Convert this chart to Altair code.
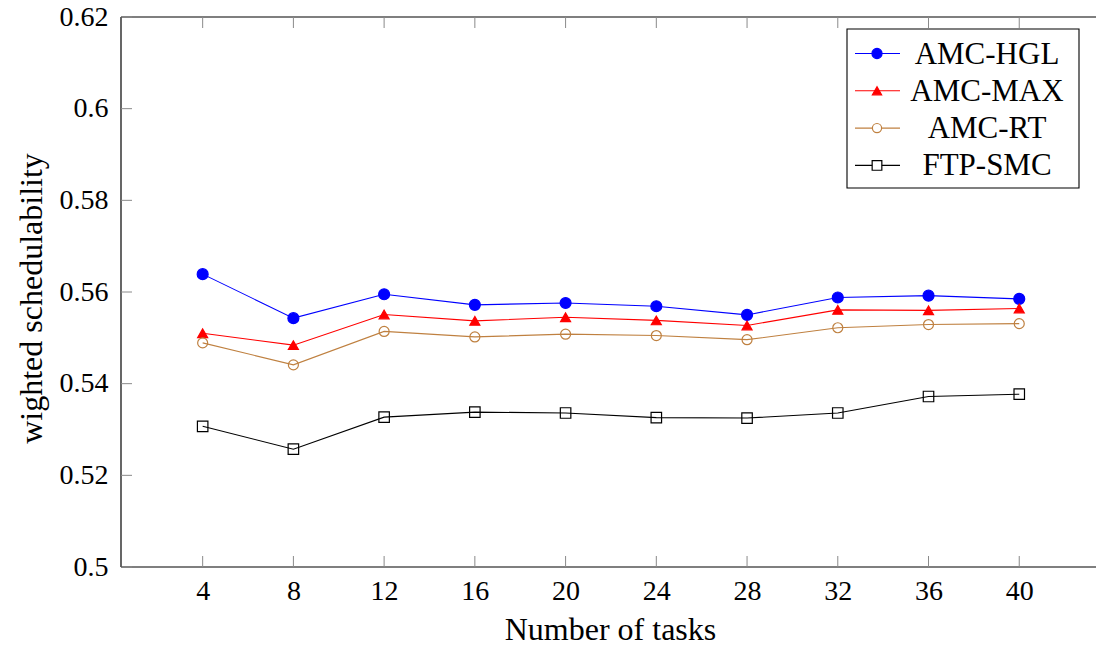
import altair as alt
import pandas as pd

# ---- data ----
tasks = [4, 8, 12, 16, 20, 24, 28, 32, 36, 40]
amc_hgl = [0.5639, 0.5543, 0.5595, 0.5572, 0.5576, 0.5569, 0.5550, 0.5588, 0.5592, 0.5585]
amc_max = [0.5510, 0.5484, 0.5551, 0.5537, 0.5545, 0.5538, 0.5527, 0.5561, 0.5560, 0.5564]
amc_rt = [0.5489, 0.5441, 0.5514, 0.5502, 0.5508, 0.5505, 0.5496, 0.5522, 0.5529, 0.5531]
ftp_smc = [0.5307, 0.5257, 0.5327, 0.5338, 0.5336, 0.5326, 0.5325, 0.5336, 0.5372, 0.5377]
series_names = ["AMC-HGL", "AMC-MAX", "AMC-RT", "FTP-SMC"]
x_ticks = [4, 8, 12, 16, 20, 24, 28, 32, 36, 40]
y_ticks = [0.5, 0.52, 0.54, 0.56, 0.58, 0.6, 0.62]

# ---- styles ----
colors = ["#0000FF", "#FF0000", "#BF8040", "#000000"]
shapes = ["circle", "triangle-up", "circle", "square"]
fills = ["#0000FF", "#FF0000", "transparent", "transparent"]
sizes = [120, 100, 100, 110]
FONT = "Liberation Serif"
LFS = 28   # tick labels
TFS = 32   # axis titles
GFS = 31   # legend entries
W, H = 975, 550
X_MAX = 0.4 + W / 22.683

values = [amc_hgl, amc_max, amc_rt, ftp_smc]
rows = []
for name, vals in zip(series_names, values):
    for t, v in zip(tasks, vals):
        rows.append({"tasks": t, "value": v, "series": name})
df = pd.DataFrame(rows)

xscale = alt.Scale(domain=[0.4, X_MAX], nice=False, zero=False)
yscale = alt.Scale(domain=[0.5, 0.62], nice=False, zero=False)

x_enc = alt.X(
    "tasks:Q", scale=xscale,
    axis=alt.Axis(values=x_ticks, format="d", domain=False, ticks=False, grid=False,
                  labelFont=FONT, labelFontSize=LFS, labelColor="black", labelPadding=10,
                  title="Number of tasks", titleFont=FONT, titleFontSize=TFS,
                  titleFontWeight="normal", titleColor="black",
                  titleX=489, titleY=72, titleAlign="center", titleBaseline="alphabetic"),
)
y_enc = alt.Y(
    "value:Q", scale=yscale,
    axis=alt.Axis(values=y_ticks, format="~g", domain=False, ticks=False, grid=False,
                  labelFont=FONT, labelFontSize=LFS, labelColor="black", labelPadding=13,
                  title="wighted schedulability", titleFont=FONT, titleFontSize=TFS,
                  titleFontWeight="normal", titleColor="black",
                  titleX=-80, titleY=281, titleAngle=-90, titleAlign="center",
                  titleBaseline="alphabetic"),
)

base = alt.Chart(df)
layers = []
one = pd.DataFrame({"k": [0]})

# axis frame (the right edge of the reference frame lies outside the picture)
layers.append(alt.Chart(one).mark_rule(color="black", strokeWidth=1.2).encode(
    x=alt.value(0), x2=alt.value(W), y=alt.value(0)))
layers.append(alt.Chart(one).mark_rule(color="black", strokeWidth=1.2).encode(
    x=alt.value(0), x2=alt.value(W), y=alt.value(H)))
layers.append(alt.Chart(one).mark_rule(color="black", strokeWidth=1.2).encode(
    x=alt.value(0), y=alt.value(0), y2=alt.value(H)))

# inward tick marks (left, bottom, top)
xt = pd.DataFrame({"tasks": x_ticks})
yt = pd.DataFrame({"value": y_ticks})
tick_col = "#8a8a8a"
layers.append(alt.Chart(xt).mark_rule(color=tick_col, strokeWidth=1).encode(
    x=alt.X("tasks:Q", scale=xscale), y=alt.value(H), y2=alt.value(H - 11)))
layers.append(alt.Chart(xt).mark_rule(color=tick_col, strokeWidth=1).encode(
    x=alt.X("tasks:Q", scale=xscale), y=alt.value(0), y2=alt.value(11)))
layers.append(alt.Chart(yt).mark_rule(color=tick_col, strokeWidth=1).encode(
    y=alt.Y("value:Q", scale=yscale), x=alt.value(0), x2=alt.value(11)))

# lines
layers.append(base.mark_line(strokeWidth=1.1).encode(
    x=x_enc, y=y_enc,
    color=alt.Color("series:N", scale=alt.Scale(domain=series_names, range=colors), legend=None),
    detail="series:N",
))

# markers per series
for name, c, sh, fl, sz in zip(series_names, colors, shapes, fills, sizes):
    layers.append(base.transform_filter(alt.datum.series == name).mark_point(
        shape=sh, filled=False, fill=fl, stroke=c, strokeWidth=1.2, size=sz, opacity=1,
        fillOpacity=1,
    ).encode(x=alt.X("tasks:Q", scale=xscale), y=alt.Y("value:Q", scale=yscale)))

# custom legend (pgfplots-style box, centred labels)
LX0, LX1, LY0, LY1 = 726, 958, 12, 171
layers.append(alt.Chart(one).mark_rect(fill="white", stroke="black", strokeWidth=1.1).encode(
    x=alt.value(LX0), x2=alt.value(LX1), y=alt.value(LY0), y2=alt.value(LY1)))
for i, (name, c, sh, fl, sz) in enumerate(zip(series_names, colors, shapes, fills, sizes)):
    ry = 36.5 + 37.3 * i
    d = pd.DataFrame({"series": [name]})
    layers.append(alt.Chart(d).mark_rule(color=c, strokeWidth=1.1).encode(
        x=alt.value(734), x2=alt.value(779), y=alt.value(ry)))
    layers.append(alt.Chart(d).mark_point(
        shape=sh, filled=False, fill=("white" if fl == "transparent" else fl), stroke=c,
        strokeWidth=1.2, size=sz * 0.85, opacity=1, fillOpacity=1,
    ).encode(x=alt.value(756), y=alt.value(ry)))
    layers.append(alt.Chart(d).mark_text(
        font=FONT, fontSize=GFS, color="black", align="center", baseline="middle", dy=1,
    ).encode(x=alt.value(866), y=alt.value(ry), text="series:N"))

chart = alt.layer(*layers).properties(
    width=W, height=H,
    autosize=alt.AutoSizeParams(type="none"),
    padding={"left": 121, "top": 17, "right": 0, "bottom": 81},
).configure_view(stroke=None)

chart.save("out.html", embed_options={"renderer": "svg", "actions": False})
